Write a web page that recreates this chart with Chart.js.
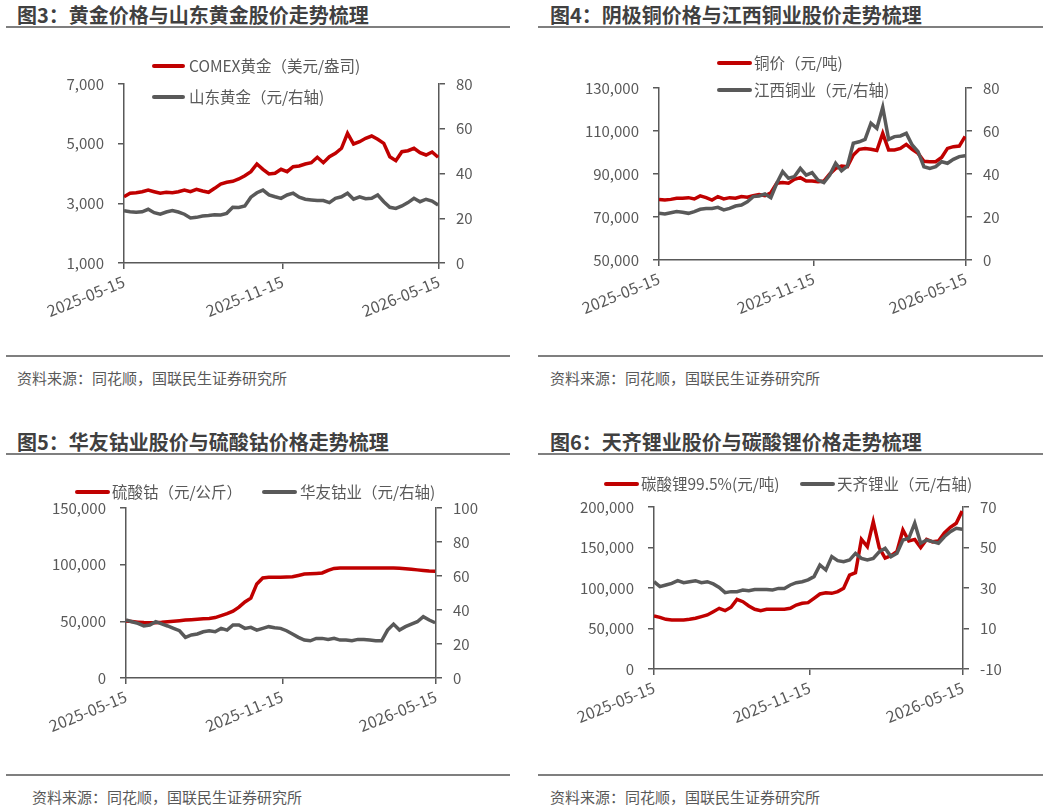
<!DOCTYPE html>
<html>
<head>
<meta charset="utf-8">
<script src="https://cdn.jsdelivr.net/npm/chart.js"></script>
<style>
    body { margin: 0; background: #fff; font-family: "Noto Sans CJK SC", sans-serif; }
    .page { position: relative; width: 1049px; height: 809px; overflow: hidden; }
    .title { position: absolute; font-size: 20px; font-weight: bold; color: #404040; line-height: 1; transform: translateY(-50%); white-space: nowrap; }
    .rule { position: absolute; height: 2px; background: #7f7f7f; }
    .src { position: absolute; font-size: 15px; color: #595959; line-height: 1; transform: translateY(-50%); white-space: nowrap; }
    .box { position: absolute; }
    .sw { position: absolute; height: 4px; border-radius: 2px; transform: translateY(-50%); }
    .lt { position: absolute; font-size: 15.5px; color: #595959; line-height: 1; transform: translateY(-50%); white-space: nowrap; }
</style>
</head>
<body>
<div class="page">
    <!-- 图3 -->
    <div class="title" style="left:17px;top:15px">图3：黄金价格与山东黄金股价走势梳理</div>
    <div class="rule" style="left:6px;top:26px;width:504px"></div>
    <div class="box" style="left:0px;top:40px;width:520px;height:300px"><canvas id="c1"></canvas></div>
    <span class="sw" style="left:152px;top:66px;width:33px;background:#c00000"></span>
    <span class="lt" style="left:189px;top:66px">COMEX黄金（美元/盎司)</span>
    <span class="sw" style="left:152px;top:97px;width:33px;background:#595959"></span>
    <span class="lt" style="left:189px;top:97px">山东黄金（元/右轴)</span>
    <div class="rule" style="left:6px;top:355px;width:504px"></div>
    <div class="src" style="left:17px;top:377px">资料来源：同花顺，国联民生证券研究所</div>

    <!-- 图4 -->
    <div class="title" style="left:550px;top:15px">图4：阴极铜价格与江西铜业股价走势梳理</div>
    <div class="rule" style="left:538px;top:26px;width:505px"></div>
    <div class="box" style="left:520px;top:40px;width:529px;height:300px"><canvas id="c2"></canvas></div>
    <span class="sw" style="left:717px;top:63px;width:35px;background:#c00000"></span>
    <span class="lt" style="left:754px;top:63px">铜价（元/吨)</span>
    <span class="sw" style="left:717px;top:90px;width:35px;background:#595959"></span>
    <span class="lt" style="left:754px;top:90px">江西铜业（元/右轴)</span>
    <div class="rule" style="left:538px;top:355px;width:505px"></div>
    <div class="src" style="left:550px;top:377px">资料来源：同花顺，国联民生证券研究所</div>

    <!-- 图5 -->
    <div class="title" style="left:17px;top:442px">图5：华友钴业股价与硫酸钴价格走势梳理</div>
    <div class="rule" style="left:6px;top:453px;width:504px"></div>
    <div class="box" style="left:0px;top:465px;width:520px;height:300px"><canvas id="c3"></canvas></div>
    <span class="sw" style="left:75px;top:492px;width:35px;background:#c00000"></span>
    <span class="lt" style="left:112px;top:492px">硫酸钴（元/公斤）</span>
    <span class="sw" style="left:262px;top:492px;width:35px;background:#595959"></span>
    <span class="lt" style="left:300px;top:492px">华友钴业（元/右轴)</span>
    <div class="rule" style="left:6px;top:774px;width:504px"></div>
    <div class="src" style="left:32px;top:796px">资料来源：同花顺，国联民生证券研究所</div>

    <!-- 图6 -->
    <div class="title" style="left:550px;top:442px">图6：天齐锂业股价与碳酸锂价格走势梳理</div>
    <div class="rule" style="left:538px;top:453px;width:505px"></div>
    <div class="box" style="left:520px;top:465px;width:529px;height:300px"><canvas id="c4"></canvas></div>
    <span class="sw" style="left:604px;top:484px;width:35px;background:#c00000"></span>
    <span class="lt" style="left:641px;top:484px">碳酸锂99.5%(元/吨)</span>
    <span class="sw" style="left:800px;top:484px;width:35px;background:#595959"></span>
    <span class="lt" style="left:837px;top:484px">天齐锂业（元/右轴)</span>
    <div class="rule" style="left:538px;top:774px;width:505px"></div>
    <div class="src" style="left:550px;top:796px">资料来源：同花顺，国联民生证券研究所</div>
</div>

<script>
    // weekly readings, 2025-05-15 .. 2026-05-15
    const xTickDays = [0, 184, 365];
    const xTickLabels = ['2025-05-15', '2025-11-15', '2026-05-15'];

    const comexGold = [3222,3336,3357,3390,3447,3390,3336,3370,3357,3390,3447,3390,3470,3412,3370,3503,3648,3705,3738,3816,
        3927,4061,4318,4140,3983,4006,4140,4061,4228,4251,4318,4362,4543,4362,4563,4677,4845,5348,4989,5067,
        5179,5257,5146,5012,4563,4429,4731,4764,4845,4697,4620,4721,4543];
    const shandongGold = [23.4,22.9,22.7,22.9,24.0,22.5,21.8,22.8,23.4,22.8,21.8,20.1,20.4,21.0,21.2,21.6,21.5,22.2,24.9,24.8,
        25.5,29.4,31.4,32.6,30.4,29.6,28.9,30.4,31.2,29.4,28.5,28.2,27.9,27.9,27.0,28.9,29.6,31.2,28.5,29.6,
        28.7,28.9,30.4,27.4,24.9,24.4,25.5,27.0,28.9,27.4,28.5,27.7,25.9];

    const copperPrice = [78200,77900,78200,78700,78700,79000,78400,79800,79000,77900,79500,78400,79000,78700,79500,79200,79900,80500,79900,81300,
        85700,86000,85700,87500,88300,86700,86700,86400,86700,90000,92600,93700,93400,98800,101500,101900,101500,100900,108900,101200,
        101200,101900,103800,101500,99600,95900,95700,95700,97700,101900,102700,103000,107500];
    const jiangxiCopper = [21.7,21.4,22.0,22.5,22.2,21.7,22.5,23.6,24.0,24.0,24.5,23.3,24.0,25.1,25.6,27.1,29.5,29.8,30.7,29.0,
        35.7,41.1,38.0,38.8,42.6,39.5,40.6,37.2,36.0,39.5,45.0,41.5,43.7,54.3,55.0,56.1,63.6,61.2,71.0,56.1,
        57.4,57.7,58.9,53.5,50.4,43.4,42.6,43.4,45.7,45.0,46.8,48.1,48.5];

    const cobaltSulfate = [50300,49800,49300,48900,48800,48800,49100,49700,50100,50600,51100,51500,51900,52200,52600,53300,55000,56800,59000,62500,
        67100,70500,83000,88300,88800,88800,88800,89100,89400,90500,91700,92000,92300,92700,95000,96700,97100,97100,97100,97100,
        97100,97100,97100,97100,97100,97000,96800,96400,96000,95400,94900,94400,94100];
    const huayouCobalt = [34.1,33.1,32.1,30.6,31.2,33.1,31.8,30.6,29.2,27.8,23.9,25.3,25.9,27.2,27.8,27.2,29.2,28.2,31.2,31.2,
        29.2,29.8,28.2,29.2,30.2,29.6,29.2,27.8,25.9,23.9,22.3,21.9,23.3,23.3,22.7,23.3,22.3,22.3,21.9,22.7,
        22.7,22.3,21.9,21.9,28.2,31.7,28.2,30.2,31.7,33.1,36.1,34.1,32.5];

    const lithiumCarbonate = [65400,63800,61300,60500,60500,60500,61300,62600,64600,66700,70800,74900,72000,76200,86000,83100,77800,73700,72000,73700,
        73700,73700,73700,74900,79000,81100,81900,87300,92600,94200,93400,95500,99600,116000,118900,160100,151000,181900,150000,137000,
        140000,145000,171600,158000,160000,150000,160000,157000,158000,168000,175000,180000,195000];
    const tianqiLithium = [33.1,30.7,31.5,32.3,33.6,32.6,33.1,33.6,32.6,33.1,32.0,30.3,27.7,28.2,28.2,29.0,28.7,29.3,29.3,29.3,
        29.0,29.8,29.8,31.5,32.6,33.1,34.0,35.6,41.4,38.9,45.5,43.5,43.0,43.8,47.1,44.6,43.8,44.6,47.9,49.6,
        45.5,47.1,53.7,54.5,62.0,52.1,53.7,52.9,52.1,55.3,57.8,59.5,59.0];

    const RED = '#c00000';
    const GRAY = '#595959';
    const AXIS = '#595959';

    Chart.defaults.font.family = '"Noto Sans CJK SC", sans-serif';
    Chart.defaults.font.size = 15;
    Chart.defaults.color = '#595959';

    function toXY(values) {
        return values.map((v, i) => ({ x: i * 7, y: v }));
    }

    function drawPanel(id, box, plot, left, right, leftAxis, rightAxis) {
        const wL = plot.l - box.left;
        const wR = box.left + box.width - plot.r;
        const padT = plot.t - box.top;
        const hX = box.top + box.height - plot.b;
        const axisGrid = { drawOnChartArea: false, color: AXIS, lineWidth: 1.5, tickLength: 6 };
        const axisBorder = { color: AXIS, width: 1.5 };

        new Chart(document.getElementById(id), {
            type: 'line',
            data: {
                datasets: [
                    { data: toXY(left), yAxisID: 'y', borderColor: RED, borderWidth: 3.5, pointRadius: 0, tension: 0, order: 1 },
                    { data: toXY(right), yAxisID: 'y1', borderColor: GRAY, borderWidth: 3.5, pointRadius: 0, tension: 0, order: 0 }
                ]
            },
            options: {
                animation: false,
                responsive: true,
                maintainAspectRatio: false,
                layout: { padding: { top: padT, left: 0, right: 0, bottom: 0 } },
                plugins: { legend: { display: false }, tooltip: { enabled: false } },
                scales: {
                    x: {
                        type: 'linear',
                        min: 0,
                        max: 365,
                        grid: axisGrid,
                        border: axisBorder,
                        afterBuildTicks: s => { s.ticks = xTickDays.map(v => ({ value: v })); },
                        afterFit: s => { s.height = hX; },
                        ticks: {
                            autoSkip: false,
                            minRotation: 22,
                            maxRotation: 22,
                            padding: 3,
                            font: { size: 16 },
                            callback: (v, i) => xTickLabels[i]
                        }
                    },
                    y: {
                        position: 'left',
                        min: leftAxis[0], max: leftAxis[1],
                        grid: axisGrid,
                        border: axisBorder,
                        afterFit: s => { s.width = wL; },
                        ticks: { stepSize: leftAxis[2], padding: 14, callback: v => v.toLocaleString('en-US') }
                    },
                    y1: {
                        position: 'right',
                        min: rightAxis[0], max: rightAxis[1],
                        grid: axisGrid,
                        border: axisBorder,
                        afterFit: s => { s.width = wR; },
                        ticks: { stepSize: rightAxis[2], padding: 11 }
                    }
                }
            }
        });
    }

    drawPanel('c1', { left: 0, top: 40, width: 520, height: 300 }, { l: 124, r: 439, t: 84, b: 263 },
        comexGold, shandongGold, [1000, 7000, 2000], [0, 80, 20]);
    drawPanel('c2', { left: 520, top: 40, width: 529, height: 300 }, { l: 659, r: 966, t: 88, b: 260 },
        copperPrice, jiangxiCopper, [50000, 130000, 20000], [0, 80, 20]);
    drawPanel('c3', { left: 0, top: 465, width: 520, height: 300 }, { l: 126, r: 436, t: 508, b: 678 },
        cobaltSulfate, huayouCobalt, [0, 150000, 50000], [0, 100, 20]);
    drawPanel('c4', { left: 520, top: 465, width: 529, height: 300 }, { l: 654, r: 963, t: 507, b: 669 },
        lithiumCarbonate, tianqiLithium, [0, 200000, 50000], [-10, 70, 20]);
</script>
</body>
</html>
